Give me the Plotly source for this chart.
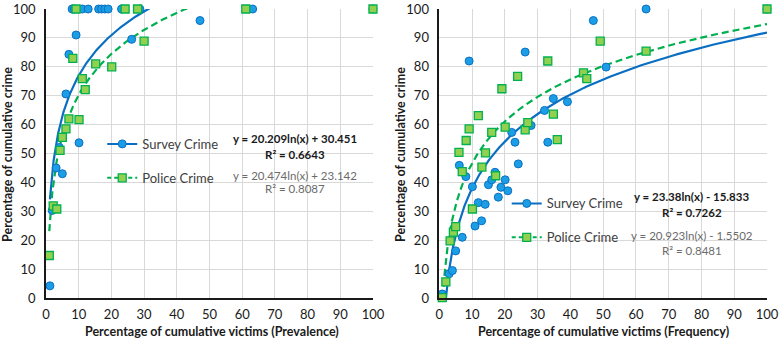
import numpy as np
import plotly.graph_objects as go
from plotly.subplots import make_subplots

# ---------------- data ----------------
# Left panel: Prevalence
prev_survey_x = [1.2, 1.9, 3.1, 4.1, 5.0, 6.1, 7.0, 9.2, 10.1, 26.2, 47.1,
                 8.0, 8.7, 11.1, 12.9, 16.1, 17.0, 18.0, 19.0, 23.1, 28.7, 63.2, 100]
prev_survey_y = [4.2, 30.3, 45.0, 52.1, 43.0, 70.6, 84.3, 91.0, 53.7, 89.5, 96.0,
                 100, 100, 100, 100, 100, 100, 100, 100, 100, 100, 100, 100]
prev_police_x = [1.0, 2.2, 3.3, 4.3, 5.0, 6.1, 7.0, 10.1, 8.2, 11.1, 12.0, 15.2,
                 20.1, 30.0, 9.2, 24.2, 28.0, 61.1, 100]
prev_police_y = [14.7, 31.9, 30.8, 51.1, 55.6, 58.5, 62.0, 61.7, 82.9, 75.9, 72.1, 81.0,
                 80.0, 88.9, 100, 100, 100, 100, 100]

# Right panel: Frequency
freq_survey_x = [0.9, 3.0, 4.0, 5.0, 7.0, 10.9, 12.9, 11.9, 14.0, 10.1, 8.1, 6.1,
                 15.0, 16.0, 17.0, 18.0, 18.8, 20.1, 20.9, 24.1, 23.1, 22.1, 28.0,
                 32.1, 33.1, 34.8, 39.1, 26.2, 9.1, 47.0, 50.9, 63.1, 100]
freq_survey_y = [1.4, 8.4, 9.5, 16.3, 21.0, 24.9, 26.7, 33.0, 32.4, 38.5, 42.0, 45.9,
                 39.2, 40.9, 43.5, 34.9, 38.3, 40.9, 37.1, 46.4, 53.9, 57.3, 59.7,
                 64.9, 53.9, 69.0, 67.9, 85.1, 82.0, 96.0, 79.9, 100, 100]
freq_police_x = [0.9, 2.0, 3.3, 4.3, 5.0, 7.0, 6.0, 8.2, 9.1, 11.9, 10.1, 13.0, 14.1,
                 16.0, 17.2, 19.1, 20.1, 23.9, 26.2, 27.0, 33.1, 34.8, 36.0, 44.0,
                 45.0, 49.1, 63.1, 100]
freq_police_y = [0.1, 5.6, 19.8, 22.8, 24.7, 43.7, 50.4, 54.5, 58.5, 63.1, 30.8, 45.3, 50.2,
                 57.3, 42.3, 72.4, 59.1, 76.7, 58.2, 60.7, 82.0, 63.6, 54.8, 77.9,
                 75.9, 88.9, 85.4, 100]

# Logarithmic trend coefficients (slope, intercept) and R²
prev_survey_fit = [20.209, 30.451, 0.6643]
prev_police_fit = [20.474, 23.142, 0.8087]
freq_survey_fit = [23.38, -15.833, 0.7262]
freq_police_fit = [20.923, -1.5502, 0.8481]

series_names = ["Survey Crime", "Police Crime"]
x_titles = ["Percentage of cumulative victims (Prevalence)",
            "Percentage of cumulative victims (Frequency)"]
y_title = "Percentage of cumulative crime"
tick_vals = list(range(0, 101, 10))

# ---------------- styles ----------------
FONT = "Lato, 'Open Sans', sans-serif"
BLUE_FILL = "#1c9ee6"
BLUE_LINE = "#0a6fc2"
GREEN_FILL = "#92d050"
GREEN_LINE = "#00b050"
TEXT = "#1a1a1a"
GREY_TEXT = "#6b6b6b"

fig = make_subplots(rows=1, cols=2, horizontal_spacing=0.092)


def trend(xs, fit):
    xx = np.geomspace(min(xs), max(xs), 400)
    return xx, fit[0] * np.log(xx) + fit[1]


def fmt_eq(fit):
    sign = "+" if fit[1] >= 0 else "-"
    return f"y = {fit[0]:g}ln(x) {sign} {abs(fit[1]):g}"


panels = [
    (1, prev_survey_x, prev_survey_y, prev_police_x, prev_police_y,
     prev_survey_fit, prev_police_fit, "legend"),
    (2, freq_survey_x, freq_survey_y, freq_police_x, freq_police_y,
     freq_survey_fit, freq_police_fit, "legend2"),
]

for col, sx, sy, px, py, sfit, pfit, leg in panels:
    # trend lines
    tx, ty = trend(sx, sfit)
    fig.add_trace(go.Scatter(x=tx, y=ty, mode="lines", showlegend=False,
                             line=dict(color=BLUE_LINE, width=2.2),
                             hoverinfo="skip"), row=1, col=col)
    tx, ty = trend(px, pfit)
    fig.add_trace(go.Scatter(x=tx, y=ty, mode="lines", showlegend=False,
                             line=dict(color=GREEN_LINE, width=2.2, dash="7px,4px"),
                             hoverinfo="skip"), row=1, col=col)
    # data markers
    fig.add_trace(go.Scatter(x=sx, y=sy, mode="markers", showlegend=False,
                             cliponaxis=False,
                             marker=dict(symbol="circle", size=8, color=BLUE_FILL,
                                         line=dict(color=BLUE_LINE, width=1)),
                             name=series_names[0]), row=1, col=col)
    fig.add_trace(go.Scatter(x=px, y=py, mode="markers", showlegend=False,
                             cliponaxis=False,
                             marker=dict(symbol="square", size=8, color=GREEN_FILL,
                                         line=dict(color=GREEN_LINE, width=1.3)),
                             name=series_names[1]), row=1, col=col)
    # legend entries (line + marker)
    fig.add_trace(go.Scatter(x=[None], y=[None], mode="lines+markers",
                             name=series_names[0], legend=leg, legendgroup=leg + "a",
                             line=dict(color=BLUE_LINE, width=2),
                             marker=dict(symbol="circle", size=8, color=BLUE_FILL,
                                         line=dict(color=BLUE_LINE, width=1))),
                  row=1, col=col)
    fig.add_trace(go.Scatter(x=[None], y=[None], mode="lines+markers",
                             name=series_names[1], legend=leg, legendgroup=leg + "b",
                             line=dict(color=GREEN_LINE, width=2, dash="4px,3px"),
                             marker=dict(symbol="square", size=8, color=GREEN_FILL,
                                         line=dict(color=GREEN_LINE, width=1.3))),
                  row=1, col=col)

axis_common = dict(range=[0, 100], tickvals=tick_vals, showgrid=True,
                   gridcolor="#d9d9d9", gridwidth=1, zeroline=False,
                   showline=True, linecolor="#1a1a1a", linewidth=1.5,
                   automargin=False,
                   ticks="", tickfont=dict(family=FONT, size=13, color=TEXT))
for i in (1, 2):
    fig.update_xaxes(axis_common, ticklabelstandoff=4, row=1, col=i)
    fig.update_yaxes(axis_common, ticklabelstandoff=6, row=1, col=i)

fig.update_xaxes(domain=[0, 0.4535], row=1, col=1)
fig.update_xaxes(domain=[0.5455, 1.0], row=1, col=2)

# Equation annotations
annos = []
for xref, yref, sfit, pfit, xc, ys in [
        ("x", "y", prev_survey_fit, prev_police_fit, 76.1, [55.1, 49.7, 42.3, 37.8]),
        ("x2", "y2", freq_survey_fit, freq_police_fit, 77.1, [35.1, 29.6, 21.8, 16.6])]:
    annos += [
        dict(x=xc, y=ys[0], xref=xref, yref=yref, text=f"<b>{fmt_eq(sfit)}</b>",
             font=dict(family=FONT, size=11.5, color=TEXT)),
        dict(x=xc, y=ys[1], xref=xref, yref=yref, text=f"<b>R² = {sfit[2]:.4f}</b>",
             font=dict(family=FONT, size=11.5, color=TEXT)),
        dict(x=xc, y=ys[2], xref=xref, yref=yref, text=fmt_eq(pfit),
             font=dict(family=FONT, size=11.5, color=GREY_TEXT)),
        dict(x=xc, y=ys[3], xref=xref, yref=yref, text=f"R² = {pfit[2]:.4f}",
             font=dict(family=FONT, size=11.5, color=GREY_TEXT)),
    ]

# Axis titles
for xc, title in [(0.230, x_titles[0]), (0.7735, x_titles[1])]:
    annos.append(dict(x=xc, y=-0.1166, xref="paper", yref="paper", text=f"<b>{title}</b>",
                      font=dict(family=FONT, size=12.5, color=TEXT)))
for xc in (-0.0527, 0.4924):
    annos.append(dict(x=xc, y=0.495, xref="paper", yref="paper", text=f"<b>{y_title}</b>",
                      textangle=-90, font=dict(family=FONT, size=12.5, color=TEXT)))
for a in annos:
    a.update(showarrow=False, xanchor="center", yanchor="middle")

legend_common = dict(bgcolor="rgba(0,0,0,0)", borderwidth=0, itemwidth=30,
                     tracegroupgap=14, xanchor="left", yanchor="top",
                     font=dict(family=FONT, size=13, color="#404040"))

fig.update_layout(
    width=780, height=342,
    margin=dict(l=46, r=13, t=9, b=44, autoexpand=False),
    plot_bgcolor="white", paper_bgcolor="white",
    annotations=annos,
    legend=dict(legend_common, x=0.078, y=0.585),
    legend2=dict(legend_common, x=0.639, y=0.379),
)

fig.write_html("out.html", config={"displayModeBar": False},
               post_script="document.body.style.margin='0';")
